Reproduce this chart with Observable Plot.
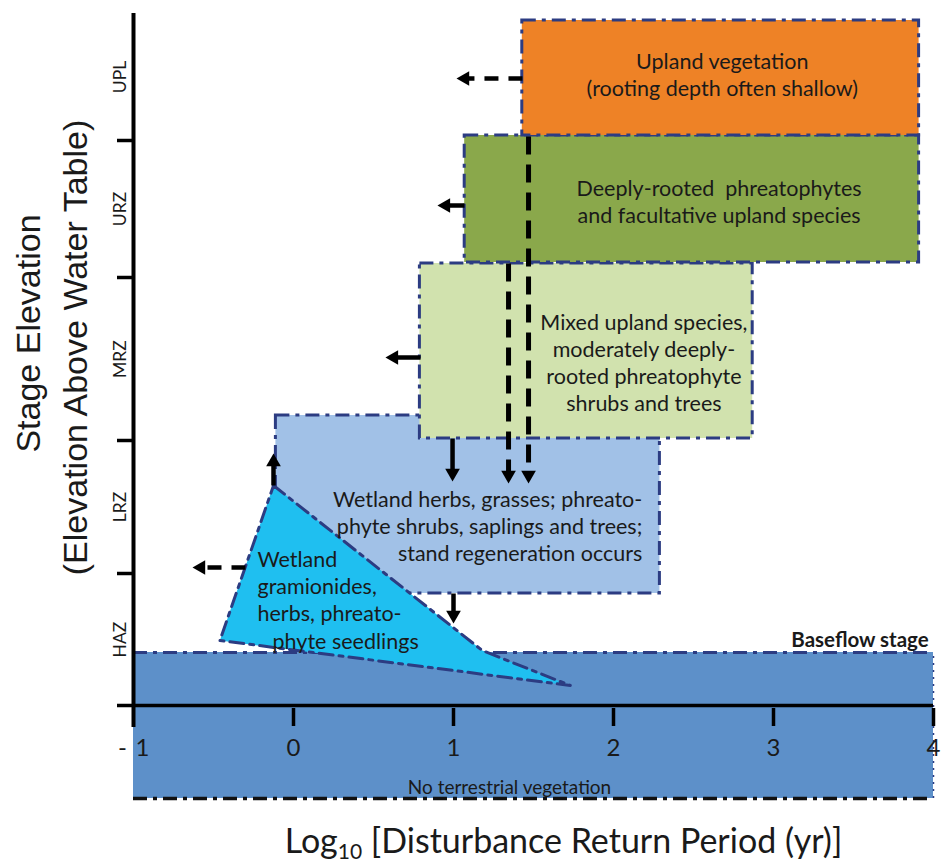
<!DOCTYPE html>
<html><head><meta charset="utf-8">
<script src="https://cdn.jsdelivr.net/npm/d3@7"></script>
<script src="https://cdn.jsdelivr.net/npm/@observablehq/plot@0.6"></script>
<style>body{margin:0;background:#fff}</style>
</head><body><div id="chart"></div>
<script>
// ---- data (x: log10 return period, y: stage elevation, arbitrary units) ----
const xTicks = [-1, 0, 1, 2, 3, 4];
const zoneNames = ["HAZ", "LRZ", "MRZ", "URZ", "UPL"];
const zoneBounds = [0, 1.32, 2.65, 4.28, 5.65, 6.92];
const baseflowStage = 0.53;
const channelBottom = -0.93;

const boxNames = ["LRZ", "MRZ", "URZ", "UPL"];
const boxReturnLo = [-0.11, 0.79, 1.07, 1.43];
const boxReturnHi = [2.29, 2.87, 3.91, 3.91];
const boxElevLo = [1.12, 2.67, 4.43, 5.70];
const boxElevHi = [2.90, 4.42, 5.70, 6.85];

const seedlingReturn = [-0.125, 1.18, 1.73, -0.46];
const seedlingElev = [2.20, 0.55, 0.20, 0.65];

const arrowX1 = [1.431, 1.069, 0.794, -0.30, -0.125, 0.994, 1.0, 1.344, 1.469];
const arrowY1 = [6.27, 5.00, 3.48, 1.38, 2.20, 2.67, 1.12, 4.42, 5.69];
const arrowX2 = [1.019, 0.90, 0.575, -0.631, -0.125, 0.994, 1.0, 1.344, 1.469];
const arrowY2 = [6.27, 5.00, 3.48, 1.38, 2.52, 2.24, 0.82, 2.22, 2.22];
const arrowDir = ["left", "left", "left", "left", "up", "down", "down", "down", "down"];
const arrowDashed = [true, false, false, true, false, false, false, true, true];

const boxLabels = [
  "Wetland herbs, grasses; phreato-\nphyte shrubs, saplings and trees;\nstand regeneration occurs",
  "Mixed upland species,\nmoderately deeply-\nrooted phreatophyte\nshrubs and trees",
  "Deeply-rooted  phreatophytes\nand facultative upland species",
  "Upland vegetation\n(rooting depth often shallow)"
];
const boxLabelX = [2.18, 2.19, 2.66, 2.68];
const boxLabelY = [1.80, 3.44, 5.05, 6.315];
const seedlingLabel = ["Wetland\ngramionides,\nherbs, phreato-", "phyte seedlings"];
const seedlingLabelX = [-0.225, -0.131];
const seedlingLabelY = [1.205, 0.65];
const channelLabel = "No terrestrial vegetation";
const baseflowLabel = "Baseflow stage";
const xTitle = ["Log", "10", " [Disturbance Return Period (yr)]"];
const yTitle = ["Stage Elevation", "(Elevation Above Water Table)"];

// ---- styles ----
const navy = "#2c3c82";
const dash = "14,6,4,6";
const boxFill = {LRZ: "#a1c1e7", MRZ: "#d1e2ae", URZ: "#8aa84b", UPL: "#ee8226"};

const boxes = boxNames.map((n, i) => ({name: n, x1: boxReturnLo[i], x2: boxReturnHi[i], y1: boxElevLo[i], y2: boxElevHi[i]}));
const seedling = seedlingReturn.map((x, i) => ({x, y: seedlingElev[i]}));
const arrows = arrowX1.map((x1, i) => {
  const d = arrowDir[i];
  const nx = d === "left" ? arrowX2[i] + 0.06 : arrowX2[i];
  const ny = d === "up" ? arrowY2[i] - 0.09 : d === "down" ? arrowY2[i] + 0.09 : arrowY2[i];
  return {x1, y1: arrowY1[i], x2: arrowX2[i], y2: arrowY2[i], nx, ny, dir: d, dashed: arrowDashed[i]};
});
const zoneMid = zoneNames.map((n, i) => ({name: n, y: (zoneBounds[i] + zoneBounds[i + 1]) / 2}));

const headR = 7, headOff = 8.4;
const txt = {fontFamily: "Lato, sans-serif", fill: "#1a1a1a"};
const boxFont = 21.5, boxLH = 27 / 21.5;

const chart = Plot.plot({
  width: 946, height: 865,
  marginLeft: 133, marginRight: 13, marginTop: 13, marginBottom: 60,
  x: {domain: [-1, 4], axis: null},
  y: {domain: [-1, 6.92], axis: null},
  color: {type: "identity"},
  style: {fontFamily: "Lato, sans-serif", background: "white", overflow: "visible"},
  marks: [
    // channel (no terrestrial vegetation)
    Plot.rect([{x1: -1, x2: 4, y1: channelBottom, y2: baseflowStage}], {x1: "x1", x2: "x2", y1: "y1", y2: "y2", fill: "#5d90c9"}),
    Plot.ruleY([baseflowStage], {x1: -1, x2: 4, stroke: navy, strokeWidth: 3, strokeDasharray: dash}),
    Plot.ruleY([channelBottom], {x1: -1, x2: 4, stroke: "#111", strokeWidth: 3.5, strokeDasharray: dash}),
    Plot.ruleX([4], {y1: channelBottom, y2: baseflowStage, stroke: navy, strokeWidth: 1.5, strokeDasharray: "2,5"}),
    // zone boxes
    Plot.rect(boxes, {x1: "x1", x2: "x2", y1: "y1", y2: "y2", fill: d => boxFill[d.name], stroke: navy, strokeWidth: 3, strokeDasharray: dash}),
    // seedling wedge
    Plot.line(seedling, {x: "x", y: "y", curve: "linear-closed", fill: "#1fbff0", stroke: navy, strokeWidth: 3, strokeDasharray: dash}),
    // axes
    Plot.ruleX([-1], {y1: -0.22, y2: zoneBounds[5], stroke: "#000", strokeWidth: 4}),
    Plot.ruleY([0], {x1: -1.1, x2: 4, stroke: "#000", strokeWidth: 3.5}),
    Plot.ruleX(xTicks.slice(1), {x: d => d, y1: -0.03, y2: -0.21, stroke: "#000", strokeWidth: 3.5}),
    Plot.ruleY(zoneBounds.slice(1, 5), {y: d => d, x1: -1.1, x2: -1, stroke: "#000", strokeWidth: 3.5}),
    Plot.text(xTicks.slice(1), {x: d => d, y: -0.43, text: d => String(d), fontSize: 24, ...txt}),
    Plot.text(["-"], {x: -1, y: -0.43, dx: -11, text: d => d, fontSize: 24, ...txt}),
    Plot.text(["1"], {x: -1, y: -0.43, dx: 9, text: d => d, fontSize: 24, ...txt}),
    Plot.text(zoneMid, {x: -1, y: "y", dx: -13, text: "name", rotate: -90, fontSize: 17.5, ...txt}),
    // arrows
    Plot.link(arrows.filter(a => !a.dashed), {x1: "x1", y1: "y1", x2: "nx", y2: "ny", stroke: "#000", strokeWidth: 4.5}),
    Plot.link(arrows.filter(a => a.dashed && a.dir === "left"), {x1: "x1", y1: "y1", x2: "nx", y2: "ny", stroke: "#000", strokeWidth: 4.5, strokeDasharray: "14,10"}),
    Plot.link(arrows.filter(a => a.dashed && a.dir === "down"), {x1: "x1", y1: "y1", x2: "nx", y2: "ny", stroke: "#000", strokeWidth: 5, strokeDasharray: "18,10"}),
    Plot.dot(arrows.filter(a => a.dir === "left"), {x: "x2", y: "y2", dx: headOff, symbol: "triangle2", rotate: -90, r: headR, fill: "#000"}),
    Plot.dot(arrows.filter(a => a.dir === "up"), {x: "x2", y: "y2", dy: headOff, symbol: "triangle2", rotate: 0, r: headR, fill: "#000"}),
    Plot.dot(arrows.filter(a => a.dir === "down"), {x: "x2", y: "y2", dy: -headOff, symbol: "triangle2", rotate: 180, r: headR, fill: "#000"}),
    // labels
    Plot.text([0], {x: boxLabelX[0], y: boxLabelY[0], text: () => boxLabels[0], textAnchor: "end", lineAnchor: "middle", lineHeight: boxLH, fontSize: boxFont, ...txt}),
    Plot.text([1, 2, 3], {x: i => boxLabelX[i], y: i => boxLabelY[i], text: i => boxLabels[i], textAnchor: "middle", lineAnchor: "middle", lineHeight: boxLH, fontSize: boxFont, ...txt}),
    Plot.text([0, 1], {x: i => seedlingLabelX[i], y: i => seedlingLabelY[i], text: i => seedlingLabel[i], textAnchor: "start", lineAnchor: "middle", lineHeight: boxLH, fontSize: boxFont, ...txt}),
    Plot.text([channelLabel], {x: 1.35, y: -0.82, text: d => d, fontSize: 19, ...txt}),
    Plot.text([baseflowLabel], {x: 3.97, y: 0.65, text: d => d, textAnchor: "end", fontSize: 20.5, fontWeight: "bold", ...txt}),
    Plot.text([xTitle.join("")], {x: 1.6875, y: -1.37, text: d => d, fontSize: 34, className: "xtitle", ...txt}),
    Plot.text([yTitle[0]], {x: -1.65, y: 3.72, text: d => d, rotate: -90, fontSize: 34, fontFamily: "Liberation Sans, Arial, sans-serif", fill: "#1a1a1a"}),
    Plot.text([yTitle[1]], {x: -1.356, y: 3.58, text: d => d, rotate: -90, fontSize: 34, fontFamily: "Liberation Sans, Arial, sans-serif", fill: "#1a1a1a"})
  ]
});
document.getElementById("chart").appendChild(chart);

// subscript in the x title
const t = d3.select(chart).select("g.xtitle text");
t.text(null);
t.append("tspan").text(xTitle[0]);
t.append("tspan").attr("dy", 6).attr("font-size", 21).text(xTitle[1]);
t.append("tspan").attr("dy", -6).text(xTitle[2]);
</script>
</body></html>
